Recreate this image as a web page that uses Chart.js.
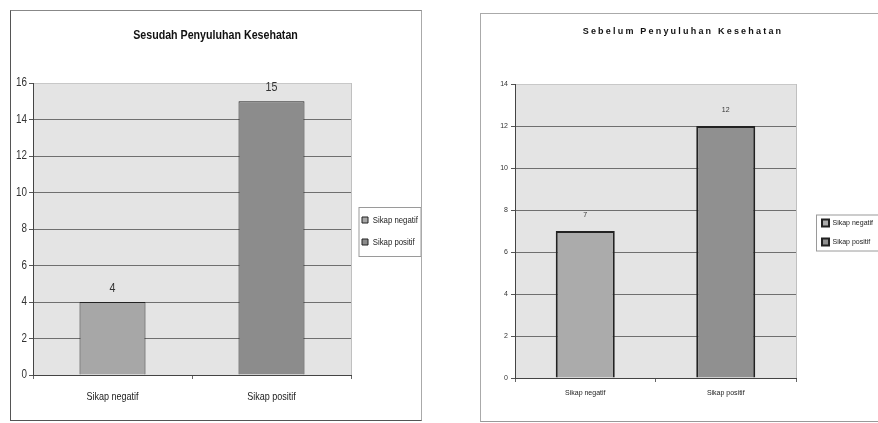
<!DOCTYPE html>
<html><head><meta charset="utf-8">
<script src="https://cdn.jsdelivr.net/npm/chart.js@4.4.1/dist/chart.umd.min.js"></script>
<style>
html,body{margin:0;padding:0;background:#fff;overflow:hidden;width:878px;height:423px;}
.frame{position:absolute;box-sizing:border-box;border-style:solid;border-width:1px;}
canvas{position:absolute;}
</style></head><body>
<div class="frame" style="left:10px;top:10px;width:412px;height:411px;border-color:#888 #aaa #555 #555;"></div>
<canvas id="c1" width="411" height="410" style="left:10px;top:10px"></canvas>
<div class="frame" style="left:480px;top:13px;width:410px;height:409px;border-color:#aaa #aaa #999 #aaa;"></div>
<canvas id="c2" width="406" height="408" style="left:480px;top:13px"></canvas>
<script>
const categories = ['Sikap negatif', 'Sikap positif'];
const sesudahValues = [4, 15];
const sebelumValues = [7, 12];
const sesudahTicks = [0, 2, 4, 6, 8, 10, 12, 14, 16];
const sebelumTicks = [0, 2, 4, 6, 8, 10, 12, 14];
const sesudahTitle = 'Sesudah Penyuluhan Kesehatan';
const sebelumTitle = 'Sebelum Penyuluhan Kesehatan';

const ARIAL = "'Liberation Sans',Arial,sans-serif";

// Narrow-font look (like Arial Narrow): draw text horizontally condensed
function condense(canvas, k) {
  const ctx = canvas.getContext('2d');
  const ft = ctx.fillText.bind(ctx);
  const mt = ctx.measureText.bind(ctx);
  ctx.fillText = function (t, x, y, mw) {
    ctx.save();
    ctx.translate(x, y);
    ctx.scale(k, 1);
    if (mw === undefined || mw === null) ft(t, 0, 0); else ft(t, 0, 0, mw / k);
    ctx.restore();
  };
  ctx.measureText = function (t) {
    const m = mt(t);
    return {
      width: m.width * k,
      actualBoundingBoxAscent: m.actualBoundingBoxAscent,
      actualBoundingBoxDescent: m.actualBoundingBoxDescent,
      actualBoundingBoxLeft: m.actualBoundingBoxLeft * k,
      actualBoundingBoxRight: m.actualBoundingBoxRight * k,
      fontBoundingBoxAscent: m.fontBoundingBoxAscent,
      fontBoundingBoxDescent: m.fontBoundingBoxDescent
    };
  };
}

function makeChart(id, cfg) {
  const ticks = cfg.ticks;
  const tmax = ticks[ticks.length - 1];
  const plugins = [{
    id: 'plotBg',
    beforeDraw(chart) {
      const a = chart.chartArea, ctx = chart.ctx;
      ctx.save();
      ctx.fillStyle = '#e4e4e4';
      ctx.fillRect(a.left, a.top, a.right - a.left, a.bottom - a.top);
      ctx.strokeStyle = '#c0c0c0';
      ctx.lineWidth = 1;
      ctx.strokeRect(Math.round(a.left) + 0.5, Math.round(a.top) + 0.5, Math.round(a.right - a.left), Math.round(a.bottom - a.top));
      ctx.restore();
    }
  }, {
    id: 'valueLabels',
    afterDatasetsDraw(chart) {
      const ctx = chart.ctx;
      ctx.save();
      ctx.font = cfg.labelFont;
      ctx.fillStyle = '#333';
      ctx.textAlign = 'center';
      ctx.textBaseline = 'middle';
      chart.data.datasets.forEach((ds, i) => {
        chart.getDatasetMeta(i).data.forEach((el, j) => {
          const v = ds.data[j];
          if (v === null || v === undefined) return;
          ctx.fillText(String(v), el.x, el.y - cfg.labelOffset);
        });
      });
      ctx.restore();
    }
  }, {
    id: 'tweaks',
    afterInit(chart) {
      const lg = chart.legend;
      const fit = lg.fit;
      lg.fit = function () { fit.call(this); this.width = cfg.legendW; };
      const draw = lg.draw;
      lg.draw = function (a) {
        const ctx = this.ctx;
        ctx.save();
        ctx.translate(cfg.legendDx, cfg.legendDy);
        draw.call(this, a);
        const hb = this.legendHitBoxes;
        const l = Math.min(...hb.map(h => h.left)) - cfg.lb[0];
        const r = Math.max(...hb.map(h => h.left + h.width)) + cfg.lb[1];
        const t = Math.min(...hb.map(h => h.top)) - cfg.lb[2];
        const b = Math.max(...hb.map(h => h.top + h.height)) + cfg.lb[3];
        ctx.strokeStyle = '#9a9a9a';
        ctx.lineWidth = 1;
        ctx.strokeRect(Math.round(l) + 0.5, Math.round(t) + 0.5, Math.round(r - l), Math.round(b - t));
        ctx.restore();
      };
      const tb = chart.titleBlock;
      const td = tb.draw;
      tb.draw = function (a) {
        this.ctx.save();
        this.ctx.letterSpacing = cfg.titleSpacing;
        td.call(this, a);
        this.ctx.restore();
      };
    }
  }];

  const canvas = document.getElementById(id);
  if (cfg.condense) condense(canvas, cfg.condense);

  return new Chart(canvas, {
    type: 'bar',
    data: {
      labels: categories,
      datasets: categories.map((cat, i) => ({
        label: cat,
        data: cfg.values.map((v, j) => (j === i ? v : null)),
        backgroundColor: cfg.barColors[i],
        borderColor: cfg.barBorder,
        borderWidth: cfg.barBorderW,
        grouped: false,
        categoryPercentage: 1,
        barPercentage: cfg.barPct
      }))
    },
    options: {
      responsive: false,
      animation: false,
      devicePixelRatio: 1,
      events: [],
      layout: { padding: 0 },
      plugins: {
        tooltip: { enabled: false },
        title: {
          display: true,
          text: cfg.title,
          color: '#111',
          font: { family: ARIAL, size: cfg.titleSize, weight: 'bold', lineHeight: 1.2 },
          padding: { top: cfg.titlePadTop, bottom: cfg.titlePadBottom }
        },
        legend: {
          position: 'right',
          fullSize: false,
          align: 'center',
          labels: {
            boxWidth: cfg.boxW,
            boxHeight: cfg.boxW,
            padding: cfg.legendPad,
            color: '#222',
            font: { family: ARIAL, size: cfg.legendSize }
          }
        }
      },
      scales: {
        x: {
          offset: true,
          grid: { display: true, offset: true, drawOnChartArea: false, drawTicks: true, tickLength: 4, color: '#666' },
          border: { display: true, color: '#444', width: 1 },
          ticks: { color: '#222', font: { family: ARIAL, size: cfg.xSize, lineHeight: 1.2 }, padding: cfg.xPad, maxRotation: 0, autoSkip: false },
          afterFit: s => { s.height = cfg.xH; }
        },
        y: {
          min: ticks[0],
          max: tmax,
          afterBuildTicks: s => { s.ticks = ticks.map(v => ({ value: v })); },
          grid: {
            color: c => (c.tick && c.tick.value === tmax ? '#c8c8c8' : '#6f6f6f'),
            tickColor: '#555',
            drawTicks: true,
            tickLength: 4
          },
          border: { display: true, color: '#444', width: 1 },
          ticks: { color: '#333', font: { family: ARIAL, size: cfg.ySize }, padding: cfg.yPad },
          afterFit: s => { s.width = cfg.yW; }
        }
      }
    },
    plugins
  });
}

makeChart('c1', {
  values: sesudahValues, ticks: sesudahTicks, title: sesudahTitle,
  condense: 0.82, titleSize: 13, titleSpacing: '0px',
  titlePadTop: 17.2, titlePadBottom: 40.2,
  barColors: ['#a7a7a7', '#8c8c8c'], barBorder: '#222', barBorderW: 1, barPct: 0.415,
  labelFont: "13px " + ARIAL, labelOffset: 14,
  legendW: 70, legendPad: 12.5, legendSize: 9.5, boxW: 6, legendDx: -1.5, legendDy: 2, lb: [4, 2, 8, 9],
  xSize: 11, xPad: 11.4, xH: 45, ySize: 12, yPad: 2, yW: 23
});

makeChart('c2', {
  values: sebelumValues, ticks: sebelumTicks, title: sebelumTitle,
  condense: 0, titleSize: 9, titleSpacing: '2.2px',
  titlePadTop: 13.6, titlePadBottom: 46.6,
  barColors: ['#ababab', '#909090'], barBorder: '#222', barBorderW: 2, barPct: 0.42,
  labelFont: "7px " + ARIAL, labelOffset: 16,
  legendW: 90, legendPad: 12, legendSize: 7, boxW: 7, legendDx: 14, legendDy: 1.5, lb: [6, 14, 5.5, 4.5],
  xSize: 7, xPad: 6.8, xH: 43, ySize: 7, yPad: 3, yW: 35
});
</script>
</body></html>
